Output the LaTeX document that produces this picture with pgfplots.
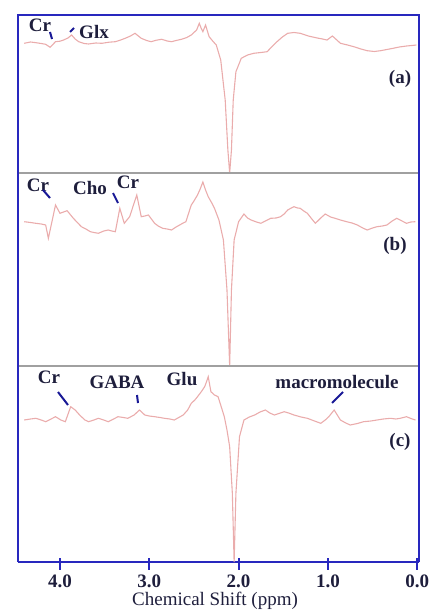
\documentclass[border=0pt]{standalone}
\usepackage{fontspec}
\setmainfont{Liberation Serif}
\usepackage{pgfplots}
\pgfplotsset{compat=1.18}
\definecolor{spec}{RGB}{234,172,172}
\definecolor{framec}{RGB}{40,40,190}
\definecolor{sepc}{RGB}{160,160,160}
\definecolor{txt}{RGB}{30,30,60}
\definecolor{ptr}{RGB}{25,25,150}
\begin{document}
\begin{tikzpicture}[x=1pt,y=1pt]
\path[use as bounding box] (0,0) rectangle (433,-612);
\pgfplotsset{panel/.style={scale only axis, width=401pt, xmin=-0.02, xmax=4.47, x dir=reverse, clip=false}}
% ---------------- panel (a)
\begin{axis}[panel, hide axis, at={(18pt,-173pt)}, anchor=south west, height=158pt, ymin=-130, ymax=28]
\addplot[spec, line width=1.1pt] coordinates {
(4.40,-0.3) (4.33,1.0) (4.27,0.3) (4.21,-0.5) (4.16,-1.3) (4.11,-4.3) (4.05,1.3) (4.00,1.8) (3.96,3) (3.91,5) (3.87,8) (3.83,4) (3.79,1.3)
(3.73,-0.5) (3.68,-1) (3.60,0) (3.53,-0.3) (3.45,0.8) (3.38,1.3) (3.32,3) (3.27,4.7) (3.21,7) (3.16,9.7) (3.09,4.7)
(3.03,2.5) (2.98,1.3) (2.92,2.8) (2.86,3.7) (2.80,2.0) (2.75,1.3) (2.70,2.5) (2.64,3.7) (2.58,5.5) (2.53,8) (2.47,13)
(2.44,19.7) (2.42,15) (2.40,11.3) (2.37,18) (2.33,6.3) (2.29,2) (2.25,-2) (2.20,-17) (2.15,-57) (2.12,-107) (2.10,-130)
(2.08,-107) (2.06,-57) (2.03,-28.7) (1.97,-15.3) (1.90,-12) (1.83,-10.3) (1.75,-9.5) (1.68,-8.7) (1.62,-3) (1.57,1.3) (1.51,6)
(1.45,9.7) (1.38,10.5) (1.31,9.7) (1.22,7) (1.12,5) (1.06,4) (1.01,3) (0.95,7) (0.90,3) (0.86,-0.3) (0.78,-2) (0.71,-3.7)
(0.63,-6) (0.56,-7.7) (0.48,-8.5) (0.41,-7.7) (0.34,-6.5) (0.27,-5.3) (0.20,-4) (0.12,-3) (0.06,-2.5) (0.01,-2)
};
\end{axis}
% ---------------- panel (b)
\begin{axis}[panel, hide axis, at={(18pt,-366pt)}, anchor=south west, height=193pt, ymin=-143, ymax=50]
\addplot[spec, line width=1.1pt] coordinates {
(4.40,1.3) (4.33,0.5) (4.27,-0.3) (4.21,-1) (4.16,-2) (4.13,-15.3) (4.09,1.3) (4.05,18) (4.00,9.7) (3.96,11) (3.92,12.3)
(3.85,4.7) (3.80,0) (3.76,-3.7) (3.71,-6) (3.66,-8.7) (3.62,-9.5) (3.57,-10.3) (3.51,-8) (3.46,-7) (3.42,-8) (3.38,-8.7)
(3.33,14.7) (3.28,-0.3) (3.22,6.3) (3.14,28) (3.09,6.3) (3.05,7) (3.01,8) (2.94,-0.3) (2.90,-3) (2.85,-5.3) (2.80,-6)
(2.75,-7) (2.70,-4) (2.66,-2) (2.62,0) (2.59,1.3) (2.53,18) (2.50,22) (2.46,28) (2.43,34) (2.40,41) (2.37,33) (2.34,26.3)
(2.30,20) (2.27,14.7) (2.22,3) (2.17,-17) (2.13,-67) (2.10,-143) (2.08,-67) (2.05,-17) (2.00,1.3) (1.94,9) (1.90,5)
(1.86,3) (1.80,1) (1.75,-0.3) (1.70,2) (1.64,4.7) (1.58,5) (1.53,6.3) (1.49,9) (1.45,13) (1.41,15) (1.38,16.3) (1.34,15)
(1.31,14.7) (1.27,12) (1.23,9.7) (1.18,4) (1.14,-0.3) (1.08,5) (1.03,9) (0.97,6) (0.92,4.7) (0.86,3) (0.79,1.3) (0.73,0)
(0.67,-2) (0.61,-5) (0.56,-7) (0.50,-5) (0.45,-3.7) (0.39,-3) (0.34,-2) (0.28,2) (0.23,4.7) (0.17,2) (0.12,-0.3) (0.07,1) (0.02,1.3)
};
\end{axis}
% ---------------- panel (c)
\begin{axis}[panel, at={(18pt,-562pt)}, anchor=south west, height=196pt, ymin=-142, ymax=54,
  axis x line=bottom, axis y line=none, x axis line style={-, framec, line width=2.5pt},
  xtick={0,1,2,3,4}, xticklabels={0.0,1.0,2.0,3.0,4.0},
  tick align=center, major tick length=12pt, xtick style={framec, line width=2pt, yshift=-1.5pt},
  xticklabel style={font=\bfseries\fontsize{19}{23}\selectfont, text=txt, inner sep=0pt, anchor=north, yshift=-7pt}]
\addplot[spec, line width=1.1pt] coordinates {
(4.40,0) (4.33,1) (4.27,1.7) (4.21,0) (4.16,-1.7) (4.10,1) (4.05,3.3) (3.99,0) (3.94,-1.7) (3.88,13.3) (3.83,10)
(3.79,6) (3.76,3.3) (3.72,0) (3.68,-1.7) (3.62,0) (3.57,1.7) (3.51,0) (3.46,-1.7) (3.40,1) (3.35,3.3) (3.29,2.5) (3.24,1.7)
(3.17,5) (3.11,10) (3.05,5) (3.00,4) (2.94,3.3) (2.88,2.5) (2.83,1.7) (2.77,1) (2.72,0) (2.67,2.5) (2.62,5) (2.57,10)
(2.53,16.7) (2.49,20) (2.46,23.3) (2.42,28) (2.38,33.3) (2.36,38) (2.34,43.3) (2.31,28.3) (2.27,25) (2.23,23.3) (2.19,12)
(2.16,3.3) (2.13,-10) (2.10,-26.7) (2.07,-73.3) (2.05,-142) (2.03,-73.3) (1.99,-16.7) (1.94,0) (1.88,3) (1.82,5) (1.76,8)
(1.70,10) (1.65,7) (1.60,5) (1.55,6.5) (1.49,8.3) (1.44,7) (1.38,5) (1.30,3) (1.23,1.7) (1.15,-1) (1.08,-3.3) (1.03,0)
(0.99,3.3) (0.93,10) (0.86,0) (0.80,-3) (0.75,-5) (0.67,-3.5) (0.60,-1.7) (0.52,-1) (0.45,0) (0.38,1) (0.30,1.7) (0.24,1)
(0.19,1.7) (0.12,3.3) (0.07,1.5) (0.02,0)
};
\end{axis}
% separators and frame
\draw[sepc, line width=2pt] (18,-173) -- (419,-173);
\draw[sepc, line width=2pt] (18,-366) -- (419,-366);
\draw[framec, line width=2.5pt] (18,-562) -- (18,-15) -- (419,-15) -- (419,-562);
% labels
\begin{scope}[every node/.style={text=txt, font=\bfseries\fontsize{19}{23}\selectfont, inner sep=0pt}]
\node at (40,-25) {Cr};
\node at (94,-32) {Glx};
\node at (400,-79) {(a)};
\node at (38,-185) {Cr};
\node at (90,-188) {Cho};
\node at (128,-182) {Cr};
\node at (395,-246) {(b)};
\node at (49,-377) {Cr};
\node at (117,-382) {GABA};
\node at (182,-379) {Glu};
\node at (337,-382) {macromolecule};
\node at (400,-442) {(c)};
\node[font=\fontsize{19}{23}\selectfont, anchor=base] at (215,-605) {Chemical Shift (ppm)};
\end{scope}
\begin{scope}[ptr, line width=2pt]
\draw (50,-32) -- (52,-39);
\draw (70,-32) -- (74,-28);
\draw (43,-190) -- (50,-198);
\draw (113,-193) -- (118,-203);
\draw (58,-392) -- (68,-405);
\draw (137,-395) -- (138,-403);
\draw (332,-403) -- (343,-392);
\end{scope}
\end{tikzpicture}
\end{document}
